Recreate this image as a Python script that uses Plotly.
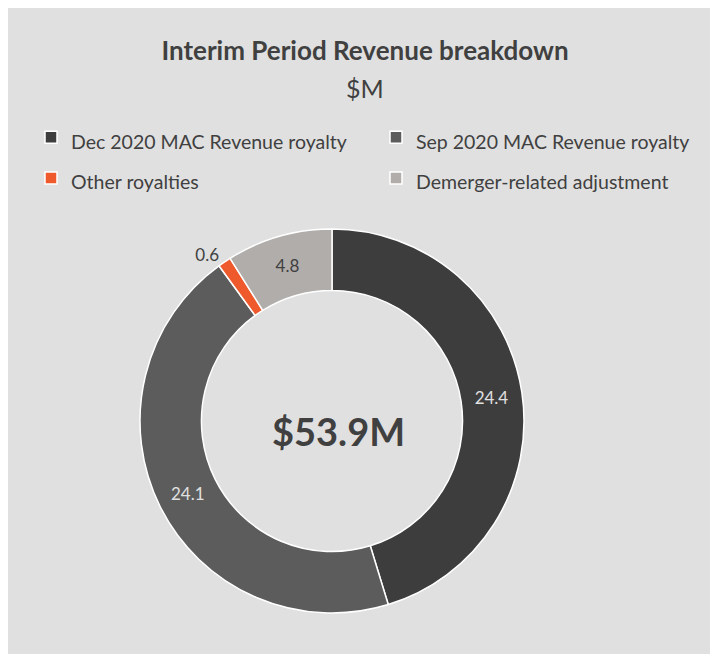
import plotly.graph_objects as go

labels = ["Dec 2020 MAC Revenue royalty", "Sep 2020 MAC Revenue royalty",
          "Other royalties", "Demerger-related adjustment"]
values = [24.4, 24.1, 0.6, 4.8]
colors = ["#3d3d3d", "#5c5c5c", "#ee5a2c", "#b0adab"]
text_colors = ["#e0e0e0", "#e0e0e0", "#404040", "#404040"]
text_positions = ["inside", "inside", "outside", "inside"]
total_label = "$53.9M"
title_text = "Interim Period Revenue breakdown"
subtitle_text = "$M"

W, H = 718, 654
cx, cy, R = 324, 413, 192   # in paper pixels (page is offset by 8px body margin)

legend_labels = ["<span style='font-size:19.5px'>" + s + "</span>" for s in labels]

fig = go.Figure()
fig.add_trace(go.Pie(
    labels=legend_labels, values=values, sort=False, direction="clockwise", rotation=0,
    hole=0.68,
    marker=dict(colors=colors, line=dict(color="#ffffff", width=1.5)),
    texttemplate="%{value}", textposition=text_positions,
    insidetextorientation="horizontal",
    textfont=dict(family="Lato", size=17, color=text_colors),
    outsidetextfont=dict(family="Lato", size=17, color="#404040"),
    hoverinfo="value+percent",
    domain=dict(x=[(cx - R) / W, (cx + R) / W], y=[(H - cy - R) / H, (H - cy + R) / H]),
    showlegend=True,
))

fig.update_layout(
    width=W, height=H,
    margin=dict(l=0, r=0, t=0, b=0),
    paper_bgcolor="#e0e0e0",
    font=dict(family="Lato", color="#404040"),
    title=dict(text="<b>" + title_text + "</b>", x=357 / W, xanchor="center",
               y=1 - 43 / H, yanchor="middle", font=dict(size=26, color="#404040")),
    annotations=[
        dict(text=subtitle_text, x=357 / W, y=1 - 80 / H, xref="paper", yref="paper",
             showarrow=False, font=dict(size=25, color="#404040"), xanchor="center", yanchor="middle"),
        dict(text="<b>" + total_label + "</b>", x=330 / W, y=1 - 423 / H, xref="paper", yref="paper",
             showarrow=False, font=dict(size=38, color="#404040"), xanchor="center", yanchor="middle"),
    ],
    legend=dict(orientation="h", x=23 / W, xanchor="left", y=1 - 104 / H, yanchor="top",
                entrywidth=300, entrywidthmode="pixels", font=dict(size=29, color="#404040"),
                bgcolor="rgba(0,0,0,0)"),
)

fig.write_html("out.html")
